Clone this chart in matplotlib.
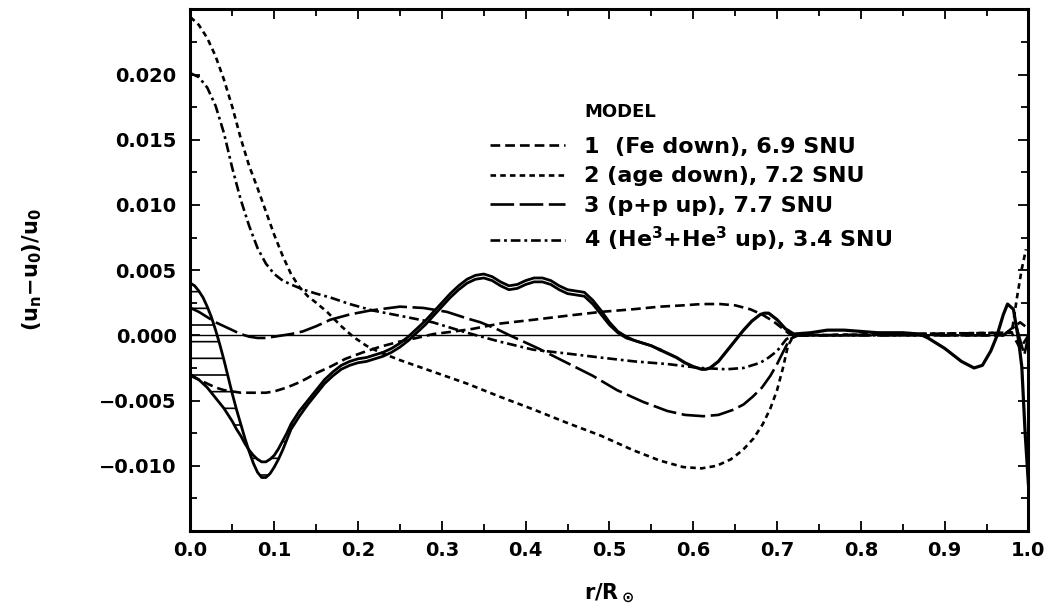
import numpy as np
import matplotlib
matplotlib.use("Agg")
import matplotlib.pyplot as plt
from matplotlib.lines import Line2D

plt.rcParams['font.family'] = ['DejaVu Sans']
plt.rcParams['font.weight'] = 'bold'
plt.rcParams['mathtext.default'] = 'regular'
plt.rcParams['lines.scale_dashes'] = False
plt.rcParams['hatch.linewidth'] = 1.2

# ---------------- data ----------------
# Model 1 (Fe down)
r_m1 = [0.0, 0.01, 0.02, 0.03, 0.04, 0.05, 0.06, 0.07, 0.08, 0.09, 0.10, 0.115, 0.13, 0.139,
        0.15, 0.167, 0.185, 0.206, 0.225, 0.248, 0.27, 0.29, 0.315, 0.337, 0.369, 0.41,
        0.449, 0.49, 0.528, 0.56, 0.588, 0.61, 0.632, 0.65, 0.668, 0.682, 0.695, 0.705,
        0.715, 0.73, 0.98, 0.99, 1.0]
v_m1 = [-0.0031, -0.0034, -0.0037, -0.0040, -0.0042, -0.0043, -0.0044, -0.0044, -0.0044,
        -0.0044, -0.0043, -0.0040, -0.0036, -0.0033, -0.0029, -0.0024, -0.0018, -0.0013,
        -0.0009, -0.0005, -0.0002, 0.0001, 0.0003, 0.0005, 0.0009, 0.0012, 0.0015, 0.0018,
        0.0020, 0.0022, 0.0023, 0.0024, 0.0024, 0.0023, 0.0020, 0.0016, 0.0011, 0.0006,
        0.0001, 0.0, 0.0002, -0.0010, 0.0]
# Model 2 (age down)
r_m2 = [0.0, 0.01, 0.02, 0.03, 0.04, 0.05, 0.06, 0.07, 0.08, 0.09, 0.10, 0.11, 0.12, 0.13,
        0.14, 0.15, 0.163, 0.18, 0.194, 0.21, 0.226, 0.25, 0.29, 0.33, 0.369, 0.41, 0.449,
        0.49, 0.528, 0.56, 0.588, 0.61, 0.628, 0.645, 0.659, 0.672, 0.683, 0.692, 0.70,
        0.707, 0.713, 0.72, 0.97, 0.98, 0.986, 0.992, 0.997]
v_m2 = [0.0244, 0.0238, 0.0228, 0.0214, 0.0196, 0.0175, 0.0151, 0.0130, 0.0113, 0.0095,
        0.0077, 0.0061, 0.0047, 0.0037, 0.0030, 0.0025, 0.0018, 0.0007, -0.0001, -0.0008,
        -0.0013, -0.0019, -0.0028, -0.0037, -0.0047, -0.0057, -0.0067, -0.0077, -0.0088,
        -0.0096, -0.0101, -0.0102, -0.0100, -0.0095, -0.0088, -0.0079, -0.0068, -0.0056,
        -0.0042, -0.0025, -0.0008, 0.0, 0.0002, 0.0002, 0.0028, 0.0051, 0.0066]
# Model 3 (p+p up)
r_m3 = [0.0, 0.01, 0.02, 0.03, 0.04, 0.05, 0.06, 0.07, 0.08, 0.09, 0.10, 0.11, 0.12, 0.134,
        0.15, 0.167, 0.19, 0.214, 0.25, 0.278, 0.306, 0.33, 0.346, 0.365, 0.381, 0.415,
        0.449, 0.48, 0.509, 0.54, 0.569, 0.59, 0.612, 0.63, 0.648, 0.66, 0.671, 0.682,
        0.692, 0.70, 0.707, 0.715, 0.725, 0.97, 0.985, 0.995, 1.0]
v_m3 = [0.0021, 0.0018, 0.0014, 0.0010, 0.0007, 0.0004, 0.0001, -0.0001, -0.0002, -0.0002,
        -0.0001, 0.0, 0.0001, 0.0003, 0.0007, 0.0012, 0.0016, 0.0019, 0.0022, 0.0021,
        0.0018, 0.0013, 0.0010, 0.0005, 0.0, -0.0010, -0.0021, -0.0031, -0.0042, -0.0051,
        -0.0058, -0.0061, -0.0062, -0.0061, -0.0057, -0.0053, -0.0047, -0.0040, -0.0031,
        -0.0022, -0.0013, -0.0003, 0.0, 0.0, 0.0008, -0.0015, 0.0]
# Model 4 (He3+He3 up)
r_m4 = [0.0, 0.01, 0.02, 0.03, 0.04, 0.05, 0.06, 0.07, 0.08, 0.09, 0.10, 0.11, 0.12, 0.135,
        0.15, 0.167, 0.19, 0.218, 0.25, 0.289, 0.33, 0.37, 0.409, 0.45, 0.489, 0.53, 0.569,
        0.608, 0.64, 0.66, 0.68, 0.69, 0.70, 0.711, 0.72, 0.97, 0.99, 1.0]
v_m4 = [0.0201, 0.0198, 0.0190, 0.0176, 0.0155, 0.0128, 0.0104, 0.0084, 0.0067, 0.0055,
        0.0047, 0.0042, 0.0039, 0.0035, 0.0032, 0.0029, 0.0024, 0.0019, 0.0015, 0.0010,
        0.0002, -0.0005, -0.0011, -0.0014, -0.0017, -0.0020, -0.0022, -0.0025, -0.0026,
        -0.0025, -0.0021, -0.0017, -0.0012, -0.0003, 0.0, 0.0, 0.0010, 0.0005]

# Inverted result: outer and inner bounds on a shared grid (double line)
r_sol = [0.0, 0.005, 0.01, 0.015, 0.02, 0.025, 0.03, 0.035, 0.04, 0.045, 0.05, 0.055, 0.06,
         0.065, 0.07, 0.075, 0.08, 0.085, 0.09, 0.095, 0.10, 0.105, 0.11, 0.115, 0.12, 0.13,
         0.14, 0.15, 0.16, 0.17, 0.18, 0.19, 0.20, 0.21, 0.22, 0.23, 0.24, 0.25, 0.26, 0.27,
         0.28, 0.29, 0.30, 0.31, 0.32, 0.33, 0.34, 0.35, 0.36, 0.37, 0.38, 0.39, 0.40, 0.41,
         0.42, 0.43, 0.44, 0.45, 0.46, 0.47, 0.48, 0.49, 0.50, 0.51, 0.52, 0.53, 0.54, 0.55,
         0.56]
v_outer = [0.0040, 0.0038, 0.0034, 0.0029, 0.0022, 0.0014, 0.0004, -0.0007, -0.0019, -0.0032,
           -0.0045, -0.0057, -0.0068, -0.0079, -0.0089, -0.0098, -0.0105, -0.0109, -0.0109,
           -0.0106, -0.0101, -0.0095, -0.0088, -0.0080, -0.0072, -0.0062, -0.0053, -0.0045,
           -0.0037, -0.0031, -0.0026, -0.0023, -0.0021, -0.0020, -0.0018, -0.0016, -0.0013,
           -0.0009, -0.0004, 0.0002, 0.0008, 0.0015, 0.0022, 0.0029, 0.0035, 0.0040, 0.0043,
           0.0044, 0.0042, 0.0038, 0.0035, 0.0036, 0.0039, 0.0041, 0.0041, 0.0039, 0.0035,
           0.0032, 0.0031, 0.0030, 0.0024, 0.0016, 0.0008, 0.0002, -0.0002, -0.0004, -0.0006,
           -0.0008, -0.0011]
v_inner = [-0.0030, -0.0032, -0.0034, -0.0037, -0.0040, -0.0044, -0.0048, -0.0052, -0.0056,
           -0.0061, -0.0066, -0.0072, -0.0077, -0.0083, -0.0088, -0.0092, -0.0095, -0.0097,
           -0.0097, -0.0095, -0.0092, -0.0087, -0.0081, -0.0075, -0.0068, -0.0058, -0.0050,
           -0.0042, -0.0034, -0.0028, -0.0023, -0.0020, -0.0018, -0.0017, -0.0015, -0.0013,
           -0.0010, -0.0006, -0.0001, 0.0005, 0.0011, 0.0018, 0.0025, 0.0032, 0.0038, 0.0043,
           0.0046, 0.0047, 0.0045, 0.0041, 0.0038, 0.0039, 0.0042, 0.0044, 0.0044, 0.0042,
           0.0038, 0.0035, 0.0034, 0.0033, 0.0027, 0.0019, 0.0010, 0.0003, -0.0001, -0.0004,
           -0.0006, -0.0008, -0.0011]
r_hatch_max = 0.14
# Single-line continuation of the inverted result
r_tail = [0.56, 0.57, 0.58, 0.59, 0.60, 0.61, 0.615, 0.62, 0.63, 0.64, 0.65, 0.66, 0.67,
          0.68, 0.685, 0.69, 0.70, 0.71, 0.72, 0.74, 0.76, 0.78, 0.80, 0.82, 0.85, 0.87,
          0.88, 0.89, 0.90, 0.91, 0.92, 0.935, 0.945, 0.955, 0.962, 0.97, 0.975, 0.982,
          0.988, 0.992, 0.996, 1.0]
v_tail = [-0.0011, -0.0014, -0.0017, -0.0021, -0.0024, -0.0026, -0.0026, -0.0025, -0.0020,
          -0.0012, -0.0004, 0.0004, 0.0011, 0.0016, 0.0017, 0.0017, 0.0012, 0.0005, 0.0001,
          0.0002, 0.0004, 0.0004, 0.0003, 0.0002, 0.0002, 0.0001, -0.0002, -0.0006, -0.0010,
          -0.0015, -0.0020, -0.0025, -0.0023, -0.0012, -0.0001, 0.0016, 0.0024, 0.0020,
          -0.0003, -0.0024, -0.0075, -0.0115]

labels = ['1  (Fe down), 6.9 SNU', '2 (age down), 7.2 SNU', '3 (p+p up), 7.7 SNU',
          '4 (He$^3$+He$^3$ up), 3.4 SNU']
x_ticks = [0.0, 0.1, 0.2, 0.3, 0.4, 0.5, 0.6, 0.7, 0.8, 0.9, 1.0]
y_ticks = [-0.010, -0.005, 0.000, 0.005, 0.010, 0.015, 0.020]

# ---------------- styles ----------------
lw = 1.9
styles = [
    (0, (7.0, 3.6)),           # model 1 medium dash
    (0, (4.0, 3.0)),           # model 2 short dash
    (0, (17.0, 4.0)),          # model 3 long dash
    (0, (7.0, 2.8, 2.0, 2.8)), # model 4 dash-dot
]

fig = plt.figure(figsize=(10.54, 6.12), dpi=100)
ax = fig.add_axes([0.1807, 0.1324, 0.9758 - 0.1807, 0.9848 - 0.1324])

ax.axhline(0.0, color='black', lw=1.0)

series = [(r_m1, v_m1), (r_m2, v_m2), (r_m3, v_m3), (r_m4, v_m4)]
handles = []
for (rr, vv), ls in zip(series, styles):
    ax.plot(rr, vv, color='black', lw=lw, linestyle=ls, dash_capstyle='butt',
            dash_joinstyle='round')
    handles.append(Line2D([], [], color='black', lw=lw, linestyle=ls,
                          dash_capstyle='butt'))

r_sol_a = np.array(r_sol)
vo = np.array(v_outer)
vi = np.array(v_inner)
m = r_sol_a <= r_hatch_max
ax.fill_between(r_sol_a[m], vo[m], vi[m], facecolor='none', edgecolor='black',
                hatch='-', lw=0)
ax.plot(r_sol, v_outer, color='black', lw=2.0, solid_joinstyle='round')
ax.plot(r_sol, v_inner, color='black', lw=2.0, solid_joinstyle='round')
ax.plot(r_tail, v_tail, color='black', lw=2.3, solid_joinstyle='round')

ax.set_xlim(0.0, 1.0)
ax.set_ylim(-0.015, 0.025)
ax.set_xticks(x_ticks)
ax.set_xticklabels([f'{t:.1f}' for t in x_ticks])
ax.set_xticks(np.arange(0.05, 1.0, 0.1), minor=True)
ax.set_yticks(y_ticks)
ax.set_yticklabels([f'{t:.3f}'.replace('-', '\u2212') for t in y_ticks])
ax.set_yticks(np.arange(-0.0125, 0.025, 0.005), minor=True)
ax.tick_params(which='both', direction='in', top=True, right=True, width=1.3,
               labelsize=14)
ax.tick_params(which='major', length=7)
ax.tick_params(which='minor', length=5)
ax.tick_params(axis='x', pad=7)
ax.tick_params(axis='y', pad=10)
for lab in ax.get_xticklabels() + ax.get_yticklabels():
    lab.set_fontweight('bold')
for sp in ax.spines.values():
    sp.set_linewidth(2.2)

ax.set_xlabel('r/R$_\\odot$', fontsize=15, fontweight='bold', labelpad=16)
ax.set_ylabel('(u$_n$\u2212u$_0$)/u$_0$', fontsize=15, fontweight='bold', labelpad=40)

ax.text(0.470, 0.803, 'MODEL', transform=ax.transAxes, fontsize=13, fontweight='bold',
        va='center', ha='left')
leg = ax.legend(handles, labels, loc='upper left', bbox_to_anchor=(0.357, 0.755),
                frameon=False, fontsize=16, handlelength=3.4, handletextpad=0.85,
                labelspacing=0.42, borderpad=0, borderaxespad=0)
for t in leg.get_texts():
    t.set_fontweight('bold')

fig.savefig('out.png', dpi=100)
